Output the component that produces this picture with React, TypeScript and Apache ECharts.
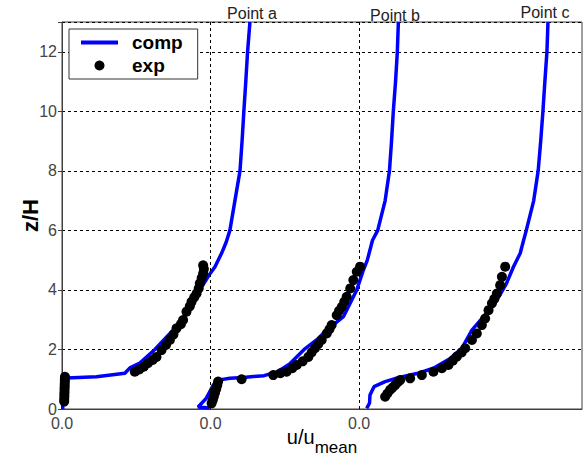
import React, { useEffect, useRef } from "react";
import * as echarts from "echarts";

// Category labels
const pointLabels = ["Point a", "Point b", "Point c"];
const xTickLabel = "0.0";
const yTicks = [0, 2, 4, 6, 8, 10, 12];

// comp (computed) profiles: [u/u_mean (offset per point), z/H]
const compA: number[][] = [
  [0.005, 0], [0.005, 0.5], [0.005, 1.0], [0.03, 1.04], [0.232, 1.08], [0.423, 1.2],
  [0.457, 1.38], [0.524, 1.54], [0.625, 2.0], [0.72, 2.5], [0.813, 3.0], [0.87, 3.5],
  [0.928, 4.0], [0.99, 4.5], [1.029, 4.77], [1.074, 5.23], [1.105, 5.6], [1.13, 6.0],
  [1.164, 7.0], [1.198, 8.0], [1.212, 9.0], [1.224, 10.0], [1.237, 11.0], [1.249, 12.0], [1.265, 13.0],
];
const compB: number[][] = [
  [0.995, 0.03], [0.916, 0.07], [0.97, 0.35], [1.018, 0.8], [1.05, 0.97], [1.13, 1.03],
  [1.22, 1.06], [1.36, 1.12], [1.45, 1.25], [1.53, 1.5], [1.63, 2.0], [1.714, 2.32],
  [1.782, 2.65], [1.894, 3.1], [1.984, 4.0], [2.028, 4.66], [2.055, 5.0], [2.09, 5.67],
  [2.125, 6.0], [2.175, 7.0], [2.204, 8.0], [2.218, 9.0], [2.23, 10.0], [2.245, 11.0],
  [2.257, 12.0], [2.264, 13.0],
];
const compC: number[][] = [
  [2.051, 0.02], [2.07, 0.2], [2.073, 0.47], [2.1, 0.75], [2.175, 0.92], [2.262, 1.05],
  [2.388, 1.19], [2.5, 1.37], [2.613, 1.7], [2.691, 2.04], [2.759, 2.65], [2.837, 3.1],
  [2.927, 3.66], [2.99, 4.2], [3.039, 4.78], [3.084, 5.23], [3.107, 5.67], [3.125, 6.0],
  [3.175, 7.0], [3.205, 8.0], [3.222, 9.0], [3.237, 10.0], [3.25, 11.0], [3.264, 12.0], [3.271, 13.0],
];

// exp (measured) profiles
const expA: number[][] = [
  [0.015, 0.25], [0.015, 0.33], [0.016, 0.42], [0.016, 0.5], [0.017, 0.58], [0.017, 0.67],
  [0.018, 0.75], [0.018, 0.83], [0.019, 0.92], [0.019, 1.0], [0.02, 1.08],
  [0.49, 1.25], [0.52, 1.33], [0.55, 1.42], [0.578, 1.54], [0.61, 1.65], [0.636, 1.75],
  [0.67, 1.98], [0.7, 2.15], [0.726, 2.32], [0.75, 2.5], [0.771, 2.71], [0.8, 2.85],
  [0.815, 2.99], [0.838, 3.27], [0.86, 3.45], [0.872, 3.6], [0.89, 3.75], [0.906, 3.88],
  [0.92, 4.05], [0.928, 4.22], [0.94, 4.4], [0.95, 4.55], [0.955, 4.7], [0.95, 4.83],
];
const expB: number[][] = [
  [1.007, 0.19], [1.015, 0.3], [1.022, 0.42], [1.03, 0.55], [1.038, 0.67], [1.045, 0.8],
  [1.051, 0.92], [1.209, 1.0], [1.422, 1.14], [1.47, 1.2], [1.512, 1.25], [1.55, 1.37],
  [1.58, 1.48], [1.62, 1.6], [1.658, 1.75], [1.68, 1.9], [1.703, 2.04], [1.725, 2.18],
  [1.748, 2.32], [1.782, 2.54], [1.8, 2.68], [1.815, 2.82], [1.849, 3.15], [1.865, 3.3],
  [1.883, 3.43], [1.9, 3.6], [1.916, 3.77], [1.94, 4.05], [1.961, 4.33], [1.984, 4.61], [2.006, 4.78],
];
const expC: number[][] = [
  [2.175, 0.41], [2.19, 0.52], [2.208, 0.64], [2.225, 0.72], [2.242, 0.8], [2.26, 0.9],
  [2.276, 0.97], [2.343, 1.03], [2.422, 1.14], [2.5, 1.25], [2.557, 1.37], [2.601, 1.48],
  [2.63, 1.62], [2.658, 1.76], [2.69, 1.9], [2.714, 2.04], [2.759, 2.32], [2.792, 2.54],
  [2.826, 2.82], [2.848, 3.04], [2.871, 3.32], [2.894, 3.55], [2.91, 3.7], [2.927, 3.88],
  [2.949, 4.16], [2.961, 4.44], [2.983, 4.78],
];

// offsets (zero line of each profile)
const profileZeros = [1, 2];

const FONT = '"Liberation Sans", Arial, sans-serif';

export default function App() {
  const ref = useRef<HTMLDivElement>(null);
  useEffect(() => {
    if (!ref.current) return;
    const chart = echarts.init(ref.current, undefined, { renderer: "svg" });
    const compStyle = { color: "#0000ff", width: 3.5 };
    const mkComp = (data: number[][]) => ({
      name: "comp",
      type: "line",
      data,
      symbol: "none",
      showSymbol: false,
      itemStyle: { color: "#0000ff" },
      lineStyle: compStyle,
      z: 3,
      silent: true,
    });
    const mkExp = (data: number[][]) => ({
      name: "exp",
      type: "scatter",
      data,
      symbol: "circle",
      symbolSize: 10,
      itemStyle: { color: "#000000", opacity: 1 },
      z: 4,
      silent: true,
    });
    const option: any = {
      animation: false,
      grid: {
        left: 62,
        right: 3,
        top: 22,
        bottom: 50,
        show: true,
        borderColor: "#404040",
        borderWidth: 1,
        outerBoundsMode: "none",
      },
      legend: {
        data: [
          { name: "comp", icon: "path://M0,0 L37,0 L37,4 L0,4 Z" },
          { name: "exp", icon: "circle" },
        ],
        orient: "vertical",
        left: 69,
        top: 29,
        backgroundColor: "#ffffff",
        borderColor: "#333333",
        borderWidth: 1,
        borderRadius: 0,
        padding: [4, 15, 4, 12],
        itemWidth: 37,
        itemHeight: 10,
        itemGap: 4,
        textStyle: {
          fontSize: 19,
          fontWeight: "bold",
          color: "#000",
          fontFamily: FONT,
          padding: [0, 0, 0, 9],
        },
      },
      xAxis: {
        type: "value",
        min: 0,
        max: 3.5,
        interval: 1,
        axisLine: { show: true, lineStyle: { color: "#404040", width: 1 } },
        axisTick: { show: false },
        splitLine: { show: false },
        axisLabel: {
          formatter: (v: number) => (v < 2.5 ? xTickLabel : ""),
          color: "#444",
          fontSize: 16,
          fontFamily: FONT,
          margin: 6,
        },
        name: "{a|u/u}{b|mean}",
        nameLocation: "middle",
        nameMoveOverlap: false,
        nameGap: 8,
        nameTextStyle: {
          rich: {
            a: { fontSize: 20, color: "#000", fontFamily: FONT },
            b: { fontSize: 17, color: "#000", fontFamily: FONT, padding: [22, 0, 0, 0] },
          },
        },
      },
      yAxis: {
        type: "value",
        min: 0,
        max: 13,
        interval: 2,
        axisLine: { show: true, lineStyle: { color: "#404040", width: 1 } },
        axisTick: { show: true, length: 4, lineStyle: { color: "#404040" } },
        splitLine: {
          show: true,
          lineStyle: { type: [3, 3], color: "#000", width: 1 },
        },
        axisLabel: {
          formatter: (v: number) => (yTicks.includes(v) ? String(v) : ""),
          color: "#444",
          fontSize: 16,
          fontFamily: FONT,
          margin: 5,
        },
        name: "z/H",
        nameLocation: "middle",
        nameMoveOverlap: false,
        nameGap: 21,
        nameTextStyle: { fontSize: 22, fontWeight: "bold", color: "#000", fontFamily: FONT },
      },
      series: [
        {
          name: "zero-lines",
          type: "line",
          data: [],
          silent: true,
          z: 1,
          markLine: {
            silent: true,
            symbol: "none",
            label: { show: false },
            lineStyle: { type: [3, 3], color: "#000", width: 1 },
            data: profileZeros.map((v) => ({ xAxis: v })),
          },
        },
        mkComp(compA),
        mkComp(compB),
        mkComp(compC),
        mkExp(expA),
        mkExp(expB),
        mkExp(expC),
      ],
      graphic: [
        { type: "text", x: 252, y: 13, style: { text: pointLabels[0], align: "center", verticalAlign: "middle", font: `16px ${FONT}`, fill: "#222" } },
        { type: "text", x: 395, y: 15, style: { text: pointLabels[1], align: "center", verticalAlign: "middle", font: `16px ${FONT}`, fill: "#222" } },
        { type: "text", x: 545, y: 12, style: { text: pointLabels[2], align: "center", verticalAlign: "middle", font: `16px ${FONT}`, fill: "#222" } },
      ],
    };
    chart.setOption(option);
    return () => chart.dispose();
  }, []);
  return <div ref={ref} style={{ width: 585, height: 459, position: "absolute", left: 0, top: 0 }} />;
}
